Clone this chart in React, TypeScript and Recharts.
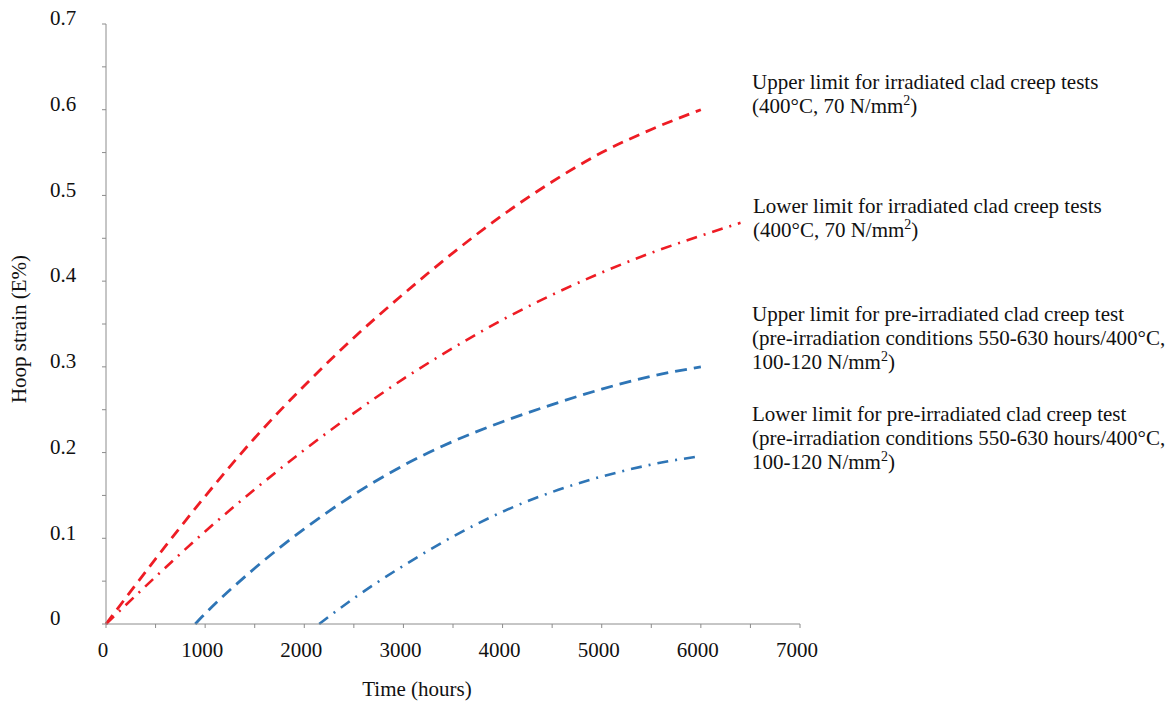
import { LineChart, Line, XAxis, YAxis } from "recharts"

// strain (%) against time (hours)
const upperIrrHours = [0, 500, 1000, 1500, 2000, 2500, 3000, 3500, 4000, 4500, 5000, 5500, 6000]
const upperIrrStrain = [0, 0.076, 0.149, 0.217, 0.278, 0.334, 0.385, 0.433, 0.477, 0.516, 0.55, 0.577, 0.6]

const lowerIrrHours = [0, 500, 1000, 1500, 2000, 2500, 3000, 3500, 4000, 4500, 5000, 5500, 6000, 6400]
const lowerIrrStrain = [0, 0.055, 0.108, 0.157, 0.203, 0.246, 0.286, 0.322, 0.355, 0.384, 0.41, 0.433, 0.453, 0.468]

const upperPreHours = [900, 1000, 1500, 2000, 2500, 3000, 3500, 4000, 4500, 5000, 5500, 6000]
const upperPreStrain = [0, 0.012, 0.065, 0.111, 0.151, 0.185, 0.213, 0.236, 0.256, 0.274, 0.289, 0.3]

const lowerPreHours = [2150, 2500, 3000, 3500, 4000, 4500, 5000, 5500, 6000]
const lowerPreStrain = [0, 0.03, 0.068, 0.102, 0.131, 0.154, 0.172, 0.186, 0.196]

const xTicks = [0, 500, 1000, 1500, 2000, 2500, 3000, 3500, 4000, 4500, 5000, 5500, 6000, 6500, 7000]
const yTicks = [0, 0.05, 0.1, 0.15, 0.2, 0.25, 0.3, 0.35, 0.4, 0.45, 0.5, 0.55, 0.6, 0.65, 0.7]

const irradiatedNote = ["(400°C, 70 N/mm", ")"]
const preNote = ["(pre-irradiation conditions 550-630 hours/400°C,", "100-120 N/mm", ")"]

const toRows = (hours: number[], strain: number[]) => hours.map((t, i) => ({ t, v: strain[i] }))

const RED = "#ee1c24"
const BLUE = "#2e75b6"
const AXIS = "#8c8c8c"
const FONT = "'Liberation Serif', 'Times New Roman', serif"
const FS = 21

const XTick = ({ x, payload }: any) => {
  if (payload.value % 1000 !== 0) return null
  return (
    <text x={x - 3} y={657} textAnchor="middle" fontSize={FS} fontFamily={FONT} fill="#111">
      {payload.value}
    </text>
  )
}

const YTick = ({ y, payload }: any) => {
  const v = Math.round(payload.value * 100)
  if (v % 10 !== 0) return null
  return (
    <text x={50} y={y - 6} dy="0.35em" textAnchor="start" fontSize={FS} fontFamily={FONT} fill="#111">
      {v === 0 ? "0" : (v / 100).toFixed(1)}
    </text>
  )
}

const Sup = ({ parts }: { parts: string[] }) => (
  <>
    {parts[0]}
    <tspan dy={-8} fontSize={14}>2</tspan>
    <tspan dy={8}>{parts[1]}</tspan>
  </>
)

export default function App() {
  return (
    <div style={{ position: "absolute", left: 0, top: 0, width: 1176, height: 704 }}>
      <LineChart width={1176} height={704} margin={{ top: 24, right: 376, bottom: 20, left: 0 }}>
        <XAxis
          type="number"
          dataKey="t"
          domain={[0, 7000]}
          ticks={xTicks}
          interval={0}
          height={60}
          stroke={AXIS}
          tickSize={4}
          tick={<XTick />}
        />
        <YAxis
          type="number"
          dataKey="v"
          domain={[0, 0.7]}
          ticks={yTicks}
          interval={0}
          width={106}
          stroke={AXIS}
          tickSize={4}
          tick={<YTick />}
        />
        <Line data={toRows(upperIrrHours, upperIrrStrain)} dataKey="v" type="monotone" stroke={RED}
          strokeWidth={2.8} strokeDasharray="11 7" dot={false} isAnimationActive={false} />
        <Line data={toRows(lowerIrrHours, lowerIrrStrain)} dataKey="v" type="monotone" stroke={RED}
          strokeWidth={2.6} strokeDasharray="11 7 2 7" dot={false} isAnimationActive={false} />
        <Line data={toRows(upperPreHours, upperPreStrain)} dataKey="v" type="monotone" stroke={BLUE}
          strokeWidth={2.8} strokeDasharray="12 7" dot={false} isAnimationActive={false} />
        <Line data={toRows(lowerPreHours, lowerPreStrain)} dataKey="v" type="monotone" stroke={BLUE}
          strokeWidth={2.6} strokeDasharray="11 7 2 7" dot={false} isAnimationActive={false} />
      </LineChart>

      {/* axis titles and curve notes */}
      <svg width={1176} height={704} style={{ position: "absolute", left: 0, top: 0, pointerEvents: "none" }}
        fontFamily={FONT} fontSize={FS} fill="#111">
        <text x={19} y={329} textAnchor="middle" dy="0.35em" transform="rotate(-90, 19, 329)">Hoop strain (E%)</text>
        <text x={417} y={696} textAnchor="middle">Time (hours)</text>

        <text x={752} y={89}>Upper limit for irradiated clad creep tests</text>
        <text x={752} y={113}><Sup parts={irradiatedNote} /></text>

        <text x={753} y={213}>Lower limit for irradiated clad creep tests</text>
        <text x={753} y={237}><Sup parts={irradiatedNote} /></text>

        <text x={752} y={321}>Upper limit for pre-irradiated clad creep test</text>
        <text x={752} y={345}>{preNote[0]}</text>
        <text x={752} y={369}><Sup parts={[preNote[1], preNote[2]]} /></text>

        <text x={752} y={421}>Lower limit for pre-irradiated clad creep test</text>
        <text x={752} y={445}>{preNote[0]}</text>
        <text x={752} y={469}><Sup parts={[preNote[1], preNote[2]]} /></text>
      </svg>
    </div>
  )
}
